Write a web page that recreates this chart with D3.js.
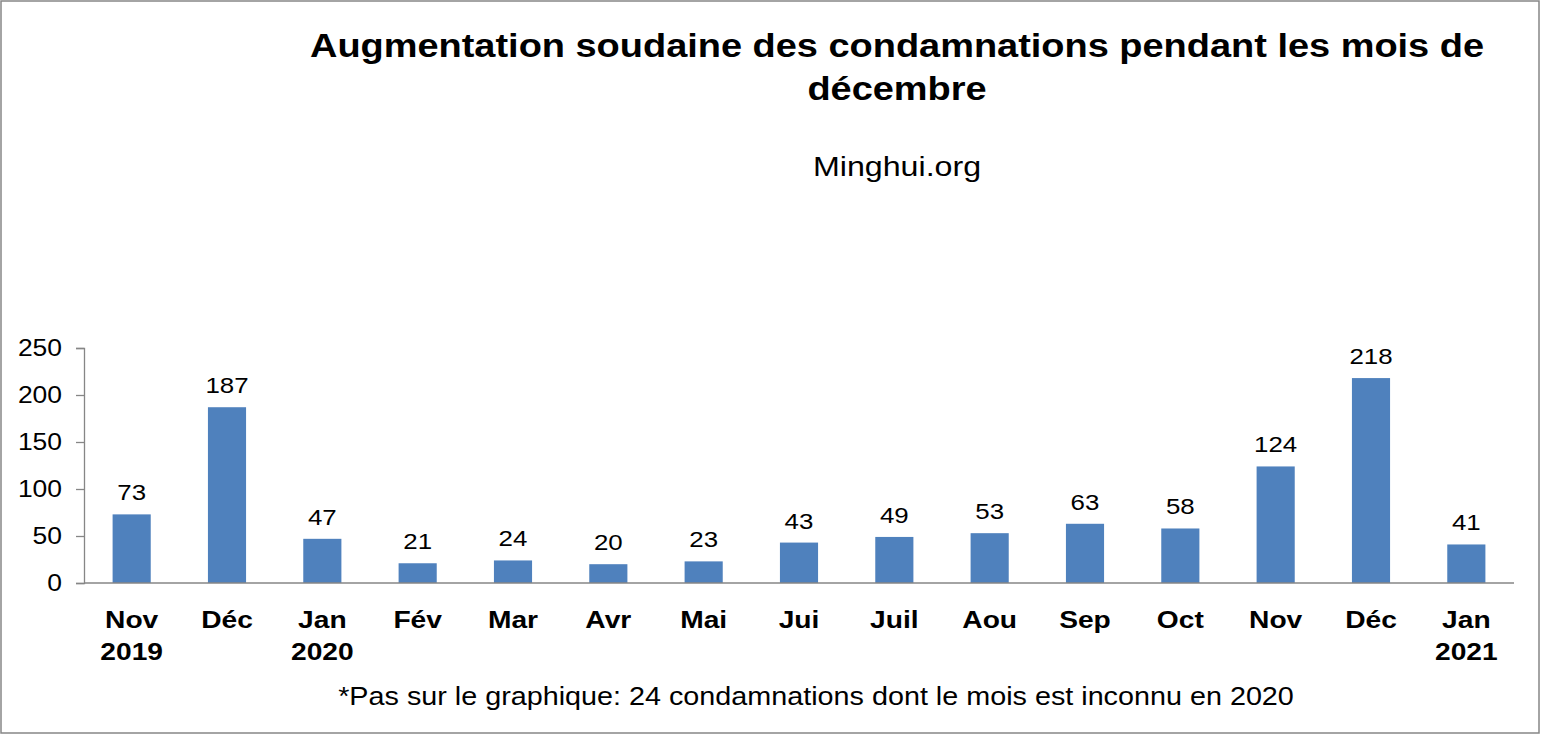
<!DOCTYPE html>
<html>
<head>
<meta charset="utf-8">
<script src="https://cdn.jsdelivr.net/npm/d3@7"></script>
<style>
  body { margin: 0; background: #fff; }
  svg text { font-family: "Liberation Sans", Arial, sans-serif; fill: #000; }
</style>
</head>
<body>
<div id="chart"></div>
<script>
const WIDTH = 1541;
const HEIGHT = 735;
const STRETCH = 1.15; // le texte de l'original est étiré horizontalement

const months = ["Nov", "Déc", "Jan", "Fév", "Mar", "Avr", "Mai", "Jui", "Juil", "Aou", "Sep", "Oct", "Nov", "Déc", "Jan"];
const years = ["2019", "", "2020", "", "", "", "", "", "", "", "", "", "", "", "2021"];
const values = [73, 187, 47, 21, 24, 20, 23, 43, 49, 53, 63, 58, 124, 218, 41];
const yTicks = [0, 50, 100, 150, 200, 250];

const keys = months.map((m, i) => i);

const svg = d3.select("#chart").append("svg")
    .attr("width", WIDTH)
    .attr("height", HEIGHT);

// texte étiré placé en (x, y)
function stretched(parent, x, y, txt, size, weight, anchor) {
    return parent.append("text")
        .attr("transform", `translate(${x},${y}) scale(${STRETCH},1)`)
        .attr("text-anchor", anchor || "middle")
        .style("font-size", size + "px")
        .style("font-weight", weight || "normal")
        .text(txt);
}

// cadre
svg.append("rect")
    .attr("x", 1).attr("y", 1)
    .attr("width", WIDTH - 3).attr("height", HEIGHT - 3)
    .attr("fill", "#fff")
    .attr("stroke", "#868686")
    .attr("stroke-width", 1.5);

// titre
stretched(svg, 897, 57, "Augmentation soudaine des condamnations pendant les mois de", 33, "bold");
stretched(svg, 897, 100, "décembre", 33, "bold");
stretched(svg, 897, 176, "Minghui.org", 28);

const x = d3.scaleBand()
    .domain(keys)
    .range([84, 1514])
    .paddingInner(0.6)
    .paddingOuter(0.3);

const y = d3.scaleLinear()
    .domain([0, 250])
    .range([583, 348]);

// axe Y
const yAxis = svg.append("g")
    .attr("transform", "translate(84,0)")
    .call(d3.axisLeft(y).tickValues(yTicks).tickSize(8).tickFormat(""));
yAxis.selectAll("path, line").attr("stroke", "#868686").attr("stroke-width", 1.3);

yTicks.forEach(t => {
    stretched(svg, 62, y(t) + 8, t, 23, "normal", "end");
});

// barres
svg.selectAll("rect.bar")
    .data(values)
    .join("rect")
    .attr("class", "bar")
    .attr("x", (d, i) => x(i))
    .attr("y", d => y(d))
    .attr("width", x.bandwidth())
    .attr("height", d => y(0) - y(d))
    .attr("fill", "#4F81BD");

// étiquettes de valeurs
values.forEach((d, i) => {
    stretched(svg, x(i) + x.bandwidth() / 2, y(d) - 14, d, 22.5);
});

// axe X
svg.append("line")
    .attr("x1", 84).attr("x2", 1514)
    .attr("y1", y(0)).attr("y2", y(0))
    .attr("stroke", "#868686")
    .attr("stroke-width", 1.3);

keys.forEach(k => {
    const cx = x(k) + x.bandwidth() / 2;
    stretched(svg, cx, 628, months[k], 24.5, "bold");
    if (years[k]) stretched(svg, cx, 660, years[k], 24.5, "bold");
});

// note
stretched(svg, 816, 705, "*Pas sur le graphique: 24 condamnations dont le mois est inconnu en 2020", 25);
</script>
</body>
</html>
